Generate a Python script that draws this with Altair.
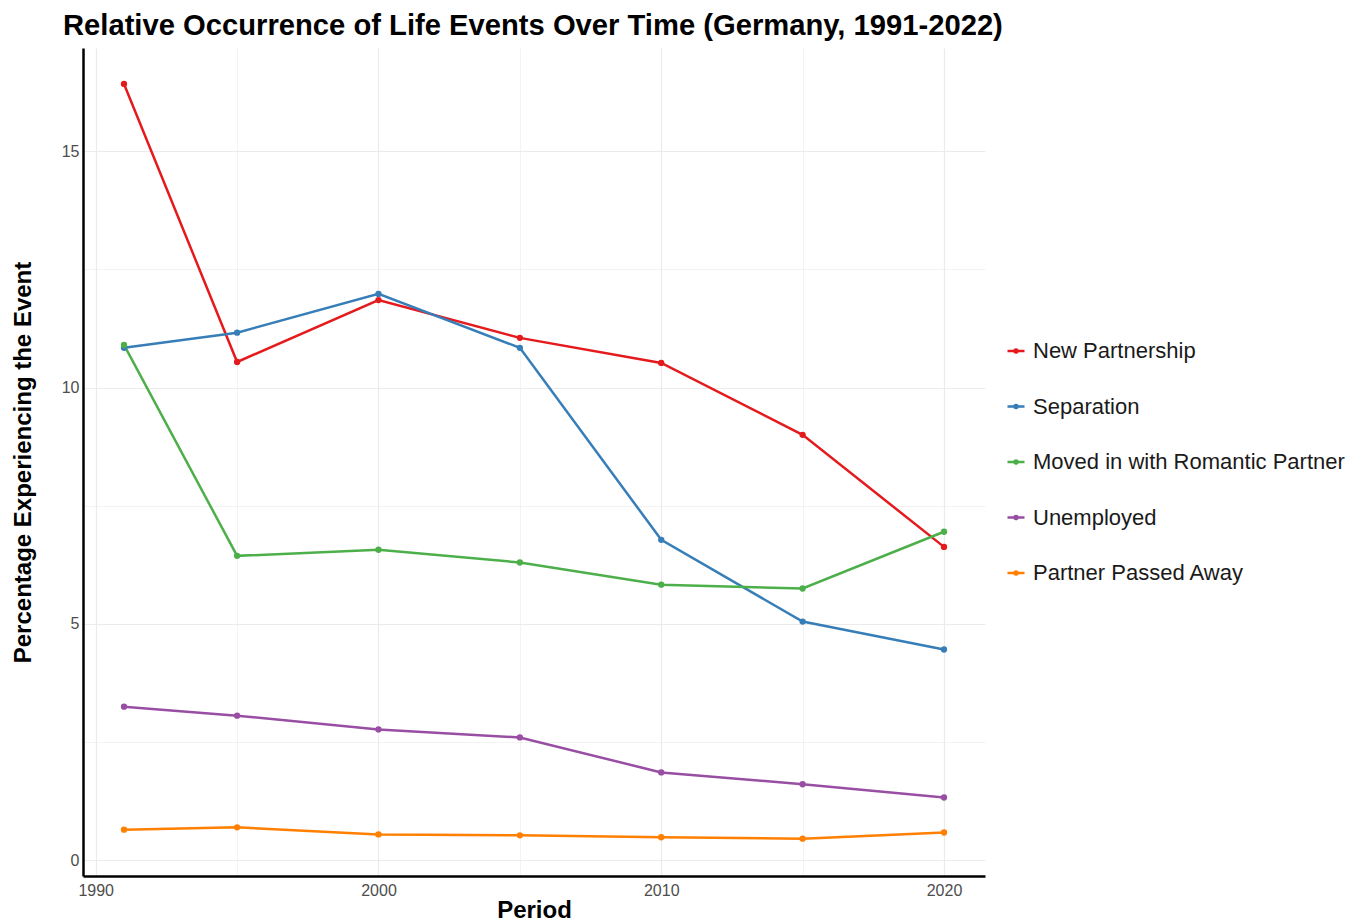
import altair as alt
import pandas as pd

years = [1991, 1995, 2000, 2005, 2010, 2015, 2020]
events = ["New Partnership", "Separation", "Moved in with Romantic Partner",
          "Unemployed", "Partner Passed Away"]
new_partnership = [16.42, 10.54, 11.85, 11.05, 10.52, 9.00, 6.63]
separation = [10.84, 11.16, 11.98, 10.84, 6.78, 5.05, 4.46]
moved_in = [10.90, 6.44, 6.57, 6.30, 5.83, 5.75, 6.95]
unemployed = [3.25, 3.06, 2.77, 2.60, 1.86, 1.61, 1.33]
partner_passed = [0.65, 0.70, 0.55, 0.53, 0.49, 0.46, 0.59]
colors = ["#E41A1C", "#377EB8", "#4DAF4A", "#984EA3", "#FF7F00"]

series = [new_partnership, separation, moved_in, unemployed, partner_passed]
rows = []
for name, vals in zip(events, series):
    for yr, v in zip(years, vals):
        rows.append({"Period": yr, "Value": v, "Event": name})
df = pd.DataFrame(rows)

FONT = "Liberation Sans"

x = alt.X("Period:Q",
          scale=alt.Scale(domain=[1989.55, 2021.45], nice=False, zero=False),
          axis=alt.Axis(values=[1990, 1995, 2000, 2005, 2010, 2015, 2020],
                        labelExpr="datum.value % 10 === 0 ? datum.label : ''",
                        format="d", title="Period",
                        gridWidth={"condition": {"test": "datum.value % 10 === 0", "value": 1.2}, "value": 0.6}))
y = alt.Y("Value:Q",
          scale=alt.Scale(domain=[-0.33, 17.18], nice=False, zero=False),
          axis=alt.Axis(values=[0, 2.5, 5, 7.5, 10, 12.5, 15],
                        labelExpr="datum.value % 5 === 0 ? datum.label : ''",
                        title="Percentage Experiencing the Event",
                        gridWidth={"condition": {"test": "datum.value % 5 === 0", "value": 1.2}, "value": 0.6}))

color_scale = alt.Scale(domain=events, range=colors)

symbol_path = ("M-1,0H1 "
               "M0.18,0A0.18,0.18 0 1,1 -0.18,0A0.18,0.18 0 1,1 0.18,0Z")

lines = alt.Chart(df).mark_line(strokeWidth=2.5).encode(
    x=x, y=y,
    color=alt.Color("Event:N", scale=color_scale, sort=events,
                    legend=alt.Legend(title=None, orient="none", legendX=922, legendY=292,
                                      padding=0,
                                      symbolType=symbol_path, symbolSize=289,
                                      symbolStrokeWidth=2.5, symbolOpacity=1,
                                      labelFontSize=22, labelFont=FONT, labelColor="#1a1a1a",
                                      rowPadding=33.5, labelOffset=6, labelLimit=500)),
    detail="Event:N",
)
points = alt.Chart(df).mark_point(filled=True, size=40, opacity=1).encode(
    x=x, y=y,
    color=alt.Color("Event:N", scale=color_scale, sort=events, legend=None),
)

chart = alt.layer(lines, points).resolve_legend(color="independent").properties(
    width=902, height=828,
    padding={"left": 83, "top": 48, "right": 377, "bottom": 46},
    autosize=alt.AutoSizeParams(type="none"),
    title=alt.TitleParams("Relative Occurrence of Life Events Over Time (Germany, 1991-2022)",
                          anchor="start", frame="group", dx=-20, offset=7,
                          font=FONT, fontSize=29.2, fontWeight="bold", color="black"),
).configure_view(stroke=None).configure_axis(
    domainColor="black", domainWidth=2.5, ticks=False,
    gridColor="#EBEBEB",
    labelFont=FONT, labelFontSize=16, labelColor="#4D4D4D",
    titleFont=FONT, titleFontSize=24, titleFontWeight="bold", titleColor="black",
).configure_axisX(titlePadding=0, labelPadding=6).configure_axisY(titlePadding=26, labelPadding=4)

chart.save("out.html", embed_options={"renderer": "svg", "actions": False})
